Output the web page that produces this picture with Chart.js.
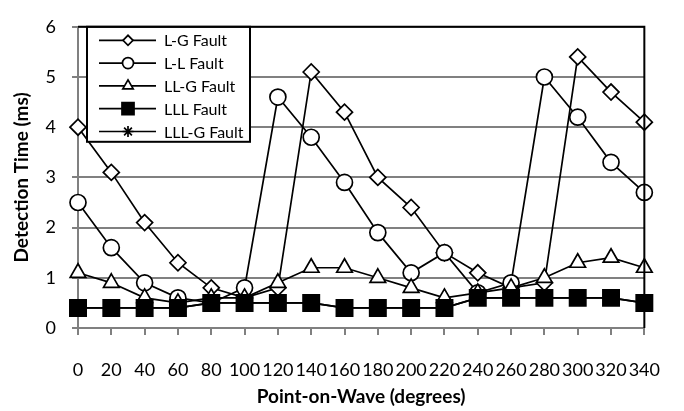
<!DOCTYPE html>
<html>
<head>
<meta charset="utf-8">
<script src="https://cdn.jsdelivr.net/npm/chart.js@4.4.0/dist/chart.umd.min.js"></script>
<style>
  html, body { margin: 0; padding: 0; background: #fff; }
  #wrap { width: 684px; height: 411px; }
</style>
</head>
<body>
<div id="wrap"><canvas id="chart1" width="684" height="411"></canvas></div>
<script>
// point-on-wave angles (degrees)
var angles = ["0","20","40","60","80","100","120","140","160","180","200","220","240","260","280","300","320","340"];

var lgFault   = [4.0, 3.1, 2.1, 1.3, 0.8, 0.6, 0.8, 5.1, 4.3, 3.0, 2.4, 1.5, 1.1, 0.8, 0.9, 5.4, 4.7, 4.1];
var llFault   = [2.5, 1.6, 0.9, 0.6, 0.5, 0.8, 4.6, 3.8, 2.9, 1.9, 1.1, 1.5, 0.7, 0.9, 5.0, 4.2, 3.3, 2.7];
var llgFault  = [1.1, 0.9, 0.6, 0.5, 0.6, 0.6, 0.9, 1.2, 1.2, 1.0, 0.8, 0.6, 0.7, 0.8, 1.0, 1.3, 1.4, 1.2];
var lllFault  = [0.4, 0.4, 0.4, 0.4, 0.5, 0.5, 0.5, 0.5, 0.4, 0.4, 0.4, 0.4, 0.6, 0.6, 0.6, 0.6, 0.6, 0.5];
var lllgFault = [0.4, 0.4, 0.4, 0.4, 0.5, 0.5, 0.5, 0.5, 0.4, 0.4, 0.4, 0.4, 0.6, 0.6, 0.6, 0.6, 0.6, 0.5];

var yTicks = [0, 1, 2, 3, 4, 5, 6];

var FONT = "Lato, 'Open Sans', sans-serif";

function series(label, data, style, radius, legendRadius, fill, order) {
  return {
    label: label,
    data: data,
    borderColor: "#000",
    borderWidth: 1.7,
    tension: 0,
    pointStyle: style,
    pointRadius: radius,
    pointHoverRadius: radius,
    pointBackgroundColor: fill,
    pointBorderColor: "#000",
    pointBorderWidth: 1.7,
    legendRadius: legendRadius,
    order: order
  };
}

// legend box drawn inside the plot, like the original
var insideLegend = {
  id: "insideLegend",
  afterDraw: function (chart) {
    var ctx = chart.ctx;
    var a = chart.chartArea;
    var x0 = a.left + 9, y0 = a.top, w = 163, h = 115;
    ctx.save();
    ctx.fillStyle = "#fff";
    ctx.fillRect(x0, y0, w, h);
    ctx.lineWidth = 2;
    ctx.strokeStyle = "#000";
    ctx.strokeRect(x0, y0, w, h);
    ctx.font = "16px " + FONT;
    ctx.textBaseline = "middle";
    chart.data.datasets.forEach(function (ds, i) {
      var cy = y0 + 13.5 + i * 22.8;
      ctx.beginPath();
      ctx.lineWidth = 1.7;
      ctx.strokeStyle = "#000";
      ctx.moveTo(x0 + 12, cy);
      ctx.lineTo(x0 + 69, cy);
      ctx.stroke();
      ctx.fillStyle = ds.pointBackgroundColor;
      ctx.strokeStyle = "#000";
      ctx.lineWidth = 1.7;
      Chart.helpers.drawPoint(ctx, {
        pointStyle: ds.pointStyle,
        radius: ds.legendRadius,
        rotation: 0,
        borderWidth: 1.7
      }, x0 + 41, cy);
      ctx.fillStyle = "#000";
      ctx.fillText(ds.label, x0 + 77, cy + 1);
    });
    // top and right plot border
    ctx.beginPath();
    ctx.lineWidth = 2;
    ctx.strokeStyle = "#000";
    ctx.moveTo(a.left, a.top);
    ctx.lineTo(a.right, a.top);
    ctx.lineTo(a.right, a.bottom);
    ctx.stroke();
    ctx.restore();
  }
};

var chart = new Chart(document.getElementById("chart1"), {
  type: "line",
  data: {
    labels: angles,
    datasets: [
      series("L-G Fault", lgFault, "rectRot", 8, 5, "#fff", 5),
      series("L-L Fault", llFault, "circle", 8, 5.5, "#fff", 4),
      series("LL-G Fault", llgFault, "triangle", 9, 6, "#fff", 3),
      series("LLL Fault", lllFault, "rect", 11.5, 8.5, "#000", 2),
      series("LLL-G Fault", lllgFault, "star", 7, 5.5, "#000", 1)
    ]
  },
  options: {
    responsive: false,
    animation: false,
    layout: { padding: { left: 0, top: 13, right: 36, bottom: 0 } },
    plugins: {
      legend: { display: false },
      tooltip: { enabled: false }
    },
    scales: {
      x: {
        type: "category",
        offset: false,
        grid: {
          drawOnChartArea: false,
          color: "#808080",
          lineWidth: 2,
          tickLength: 7
        },
        border: { color: "#808080", width: 2 },
        ticks: {
          autoSkip: false,
          maxRotation: 0,
          padding: 24,
          color: "#000",
          font: { family: FONT, size: 18 }
        },
        title: {
          display: true,
          text: "Point-on-Wave (degrees)",
          color: "#000",
          font: { family: FONT, size: 19, weight: "bold" },
          padding: { top: 0, bottom: 3 }
        },
        afterFit: function (s) { s.height = 83; }
      },
      y: {
        min: 0,
        max: 6,
        afterBuildTicks: function (s) {
          s.ticks = yTicks.map(function (v) { return { value: v }; });
        },
        grid: {
          color: "#808080",
          lineWidth: 2,
          tickLength: 6
        },
        border: { color: "#808080", width: 2 },
        ticks: {
          padding: 16,
          color: "#000",
          font: { family: FONT, size: 18 }
        },
        title: {
          display: true,
          text: "Detection Time (ms)",
          color: "#000",
          font: { family: FONT, size: 19, weight: "bold" },
          padding: { top: 10, bottom: 0 }
        },
        afterFit: function (s) { s.width = 78; }
      }
    }
  },
  plugins: [insideLegend]
});
</script>
</body>
</html>
